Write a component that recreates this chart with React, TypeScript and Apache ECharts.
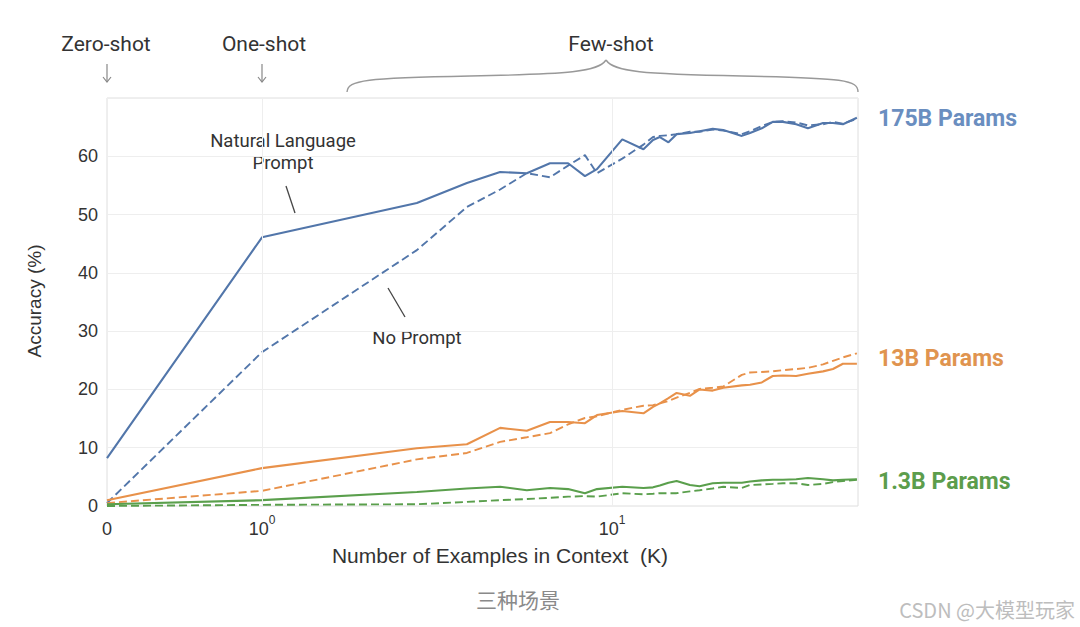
import React, { useEffect, useRef } from "react";
import * as echarts from "echarts";

// Number of examples in context (K) (0 = zero-shot)
const kValues = [0, 1, 2.77, 3.85, 4.79, 5.71, 6.65, 7.49, 8.37, 9.06, 10.7, 12.3, 13.1, 13.7, 14.5, 15.3, 16.7, 17.8, 19.4, 20.8, 23.5, 24.8, 26.8, 28.8, 30.8, 33.6, 36.3, 40.1, 42.8, 45.7, 50.1];

const acc175Prompt = [8.2, 46.1, 52.0, 55.4, 57.3, 57.1, 58.8, 58.8, 56.6, 57.8, 62.9, 61.2, 62.8, 63.3, 62.4, 63.8, 64.0, 64.3, 64.7, 64.5, 63.5, 64.0, 64.8, 65.9, 65.9, 65.5, 64.8, 65.7, 65.7, 65.5, 66.6];
const acc175NoPrompt = [0.5, 26.4, 43.9, 51.3, 54.3, 57.1, 56.4, 58.4, 60.2, 57.1, 59.6, 62.0, 63.3, 63.5, 63.6, 63.8, 64.2, 64.2, 64.6, 64.4, 63.8, 64.3, 65.2, 65.9, 66.0, 65.8, 65.3, 65.5, 65.9, 65.6, 66.4];
const acc13Prompt = [1.0, 6.5, 9.9, 10.6, 13.4, 12.9, 14.4, 14.4, 14.2, 15.6, 16.3, 15.9, 17.0, 17.6, 18.5, 19.4, 18.9, 20.0, 19.8, 20.3, 20.7, 20.8, 21.2, 22.3, 22.4, 22.3, 22.7, 23.1, 23.5, 24.4, 24.4];
const acc13NoPrompt = [0.5, 2.6, 8.0, 9.1, 11.0, 11.8, 12.5, 14.0, 15.1, 15.4, 16.5, 17.2, 17.3, 17.6, 18.0, 18.6, 19.4, 20.1, 20.3, 20.5, 22.5, 22.9, 23.0, 23.1, 23.3, 23.5, 23.7, 24.3, 24.9, 25.5, 26.2];
const acc13bPrompt = [0.3, 1.0, 2.4, 3.0, 3.3, 2.7, 3.1, 2.9, 2.2, 2.9, 3.3, 3.1, 3.2, 3.5, 4.0, 4.3, 3.6, 3.4, 3.9, 4.0, 4.0, 4.2, 4.4, 4.5, 4.5, 4.6, 4.8, 4.6, 4.4, 4.5, 4.6];
const acc13bNoPrompt = [0.0, 0.2, 0.3, 0.7, 1.0, 1.2, 1.4, 1.6, 1.7, 1.6, 2.2, 2.0, 2.1, 2.2, 2.2, 2.2, 2.5, 2.7, 3.0, 3.3, 3.1, 3.6, 3.7, 3.8, 3.9, 3.9, 3.6, 3.8, 4.1, 4.3, 4.5];

const modelLabels = ["175B Params", "13B Params", "1.3B Params"];
const yTicks = [0, 10, 20, 30, 40, 50, 60];

const ZERO_POS = -0.443; // where K = 0 sits on the log axis
const X_MAX = 1.703;

const BLUE = "#5276aa";
const ORANGE = "#e8914a";
const GREEN = "#5a9f4c";

const toX = (k: number) => (k === 0 ? ZERO_POS : Math.log10(k));
const pairs = (ys: number[]) => kValues.map((k, i) => [toX(k), ys[i]]);

export default function App() {
  const ref = useRef<HTMLDivElement>(null);
  useEffect(() => {
    if (!ref.current) return;
    const chart = echarts.init(ref.current, null, { renderer: "svg" });
    const axisFont = "'Liberation Sans', Arial, sans-serif";
    const uiFont = "Roboto, 'Liberation Sans', sans-serif";
    const line = (name: string, data: number[], color: string, dashed: boolean) => ({
      name,
      type: "line",
      data: pairs(data),
      showSymbol: false,
      symbol: "none",
      lineStyle: { color, width: dashed ? 1.9 : 2.1, type: dashed ? [8, 4] : "solid" },
      z: dashed ? 2 : 3,
    });
    chart.setOption({
      animation: false,
      backgroundColor: "#ffffff",
      grid: { left: 107, right: 222, top: 98, bottom: 121, show: true, borderColor: "#dedede", borderWidth: 1 },
      xAxis: {
        type: "value",
        min: ZERO_POS,
        max: X_MAX,
        axisLine: { show: false },
        axisTick: { show: false },
        splitLine: { show: false },
        axisLabel: {
          customValues: [ZERO_POS, 0, 1],
          margin: 8,
          formatter: (v: number) => (v < -0.1 ? "{b|0}" : `{b|10}{s|${Math.round(v)}}`),
          rich: {
            b: { fontSize: 18, color: "#333", fontFamily: axisFont, lineHeight: 30 },
            s: { fontSize: 12, color: "#333", fontFamily: axisFont, lineHeight: 30, verticalAlign: "top" },
          },
        },
      },
      yAxis: {
        type: "value",
        min: 0,
        max: 70,
        interval: 10,
        axisLine: { show: false },
        axisTick: { show: false },
        splitLine: { show: true, lineStyle: { color: "#eeeeee", width: 1 } },
        axisLabel: {
          margin: 9,
          color: "#333",
          fontSize: 18,
          fontFamily: axisFont,
          formatter: (v: number) => (yTicks.includes(v) ? String(v) : ""),
        },
      },
      series: [
        line("175B prompt", acc175Prompt, BLUE, false),
        line("175B no prompt", acc175NoPrompt, BLUE, true),
        line("13B prompt", acc13Prompt, ORANGE, false),
        line("13B no prompt", acc13NoPrompt, ORANGE, true),
        line("1.3B prompt", acc13bPrompt, GREEN, false),
        line("1.3B no prompt", acc13bNoPrompt, GREEN, true),
        {
          type: "line",
          data: [],
          markLine: {
            silent: true,
            symbol: "none",
            label: { show: false },
            lineStyle: { color: "#eeeeee", width: 1, type: "solid" },
            data: [{ xAxis: 0 }, { xAxis: 1 }],
          },
        },
      ],
      graphic: [
        // top labels
        { type: "text", x: 106, y: 44, style: { text: "Zero-shot", font: `21px ${uiFont}`, fill: "#333", align: "center", verticalAlign: "middle" } },
        { type: "text", x: 264, y: 44, style: { text: "One-shot", font: `21px ${uiFont}`, fill: "#333", align: "center", verticalAlign: "middle" } },
        { type: "text", x: 611, y: 44, style: { text: "Few-shot", font: `21px ${uiFont}`, fill: "#333", align: "center", verticalAlign: "middle" } },
        { type: "line", shape: { x1: 107, y1: 64, x2: 107, y2: 82 }, style: { stroke: "#888", lineWidth: 1.2 } },
        { type: "polyline", shape: { points: [[103, 77], [107, 82], [111, 77]] }, style: { stroke: "#888", lineWidth: 1.2, fill: null } },
        { type: "line", shape: { x1: 262, y1: 64, x2: 262, y2: 82 }, style: { stroke: "#888", lineWidth: 1.2 } },
        { type: "polyline", shape: { points: [[258, 77], [262, 82], [266, 77]] }, style: { stroke: "#888", lineWidth: 1.2, fill: null } },
        // curly brace
        { type: "bezierCurve", shape: { x1: 347, y1: 92, cpx1: 348, cpy1: 80, cpx2: 365, cpy2: 78, x2: 470, y2: 76 }, style: { stroke: "#999", lineWidth: 1.4, fill: null } },
        { type: "bezierCurve", shape: { x1: 470, y1: 76, cpx1: 570, cpy1: 74, cpx2: 598, cpy2: 72, x2: 606, y2: 60 }, style: { stroke: "#999", lineWidth: 1.4, fill: null } },
        { type: "bezierCurve", shape: { x1: 606, y1: 60, cpx1: 614, cpy1: 72, cpx2: 642, cpy2: 74, x2: 742, y2: 76 }, style: { stroke: "#999", lineWidth: 1.4, fill: null } },
        { type: "bezierCurve", shape: { x1: 742, y1: 76, cpx1: 845, cpy1: 78, cpx2: 858, cpy2: 80, x2: 858, y2: 92 }, style: { stroke: "#999", lineWidth: 1.4, fill: null } },
        // annotations
        { type: "text", x: 283, y: 152, style: { text: "Natural Language\nPrompt", font: `18.5px ${uiFont}`, lineHeight: 22, fill: "#333", align: "center", verticalAlign: "middle" } },
        { type: "line", shape: { x1: 286, y1: 186, x2: 295, y2: 213 }, style: { stroke: "#444", lineWidth: 1.3 } },
        { type: "text", x: 417, y: 338, style: { text: "No Prompt", font: `18.5px ${uiFont}`, fill: "#333", align: "center", verticalAlign: "middle" } },
        { type: "line", shape: { x1: 388, y1: 288, x2: 405, y2: 317 }, style: { stroke: "#444", lineWidth: 1.3 } },
        // model labels
        { type: "text", x: 878, y: 118, style: { text: modelLabels[0], font: `bold 23px ${uiFont}`, fill: "#6a8ec0", align: "left", verticalAlign: "middle" } },
        { type: "text", x: 878, y: 358, style: { text: modelLabels[1], font: `bold 23px ${uiFont}`, fill: "#e0944f", align: "left", verticalAlign: "middle" } },
        { type: "text", x: 878, y: 481, style: { text: modelLabels[2], font: `bold 23px ${uiFont}`, fill: "#5c9d4c", align: "left", verticalAlign: "middle" } },
        // axis titles
        { type: "text", x: 34, y: 301, rotation: Math.PI / 2, style: { text: "Accuracy (%)", font: `19px ${axisFont}`, fill: "#333", align: "center", verticalAlign: "middle" } },
        { type: "text", x: 500, y: 555, style: { text: "Number of Examples in Context  (K)", font: `21px ${axisFont}`, fill: "#333", align: "center", verticalAlign: "middle" } },
        { type: "text", x: 518, y: 599, style: { text: "三种场景", font: `21px 'Noto Sans CJK SC', sans-serif`, fill: "#8a8a8a", align: "center", verticalAlign: "middle" } },
        { type: "text", x: 1075, y: 609, style: { text: "CSDN @大模型玩家", font: `20px 'Noto Sans CJK SC', sans-serif`, fill: "#bdbdbd", align: "right", verticalAlign: "middle" } },
      ],
    });
    return () => chart.dispose();
  }, []);
  return <div ref={ref} style={{ position: "fixed", left: 0, top: 0, width: 1080, height: 627, background: "#fff" }} />;
}
